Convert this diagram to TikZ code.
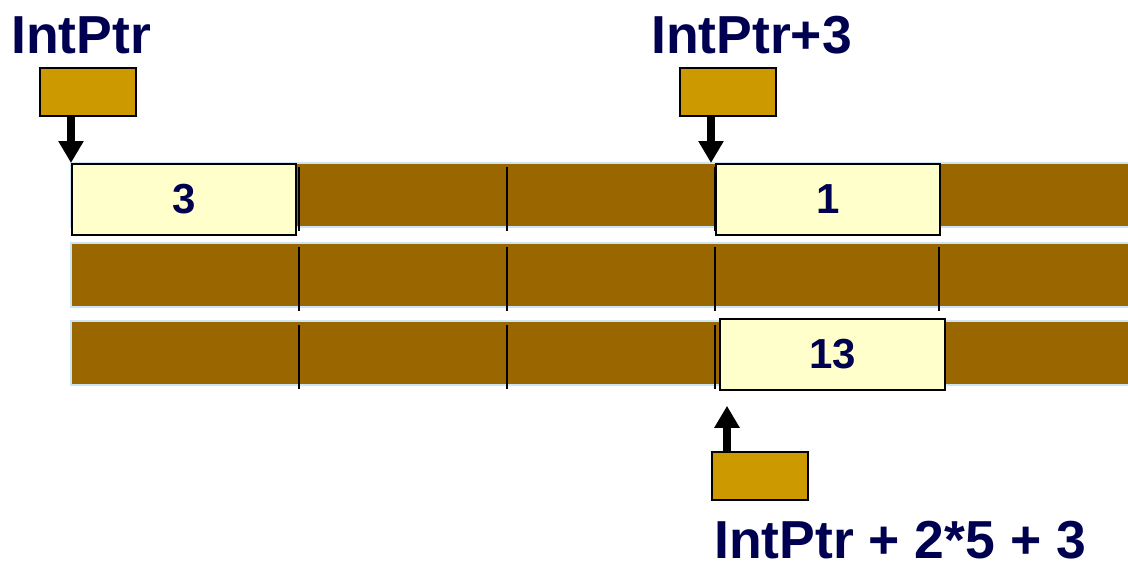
\documentclass[tikz,border=0pt]{standalone}
\usepackage{fontspec}
\setmainfont{Liberation Sans}
\usetikzlibrary{arrows.meta}
\definecolor{bar}{RGB}{153,102,0}
\definecolor{barline}{RGB}{204,230,245}
\definecolor{cell}{RGB}{255,255,204}
\definecolor{ptr}{RGB}{204,153,0}
\definecolor{ink}{RGB}{0,0,80}
\tikzset{
  rowbar/.style={fill=bar, draw=barline, line width=1.5pt},
  tick/.style={draw=black, line width=1.6pt},
  cellbox/.style={draw=black, fill=cell, line width=1.8pt, minimum width=224pt, minimum height=71pt, inner sep=0pt, font=\fontsize{42}{42}\selectfont\bfseries, text=ink},
  ptrbox/.style={draw=black, fill=ptr, line width=1.8pt, minimum width=96pt, minimum height=48pt, inner sep=0pt},
  lbl/.style={font=\fontsize{53.5}{53.5}\selectfont\bfseries, text=ink, inner sep=0pt, anchor=base west},
  ptrarrow/.style={line width=8pt, -{Triangle[width=24pt,length=22pt]}}
}
\begin{document}
\begin{tikzpicture}[x=1pt,y=-1pt]
\useasboundingbox (0,0) rectangle (1128,565);
% memory rows
\draw[rowbar] (71,163) rectangle (1130,227);
\draw[rowbar] (71,243) rectangle (1130,307);
\draw[rowbar] (71,321) rectangle (1130,385);
% element separators
\foreach \x in {299,507,715,939} {
  \draw[tick] (\x,167) -- (\x,231);
  \draw[tick] (\x,247) -- (\x,311);
  \draw[tick] (\x,325) -- (\x,389);
}
% highlighted cells
\node[cellbox, anchor=north west] (c3) at (71,163) {3};
\node[cellbox, anchor=north west] (c1) at (715,163) {1};
\node[cellbox, anchor=north west, minimum width=225pt] (c13) at (719,318) {13};
% pointer boxes
\node[ptrbox, anchor=north west] (pa) at (39,67) {};
\node[ptrbox, anchor=north west] (pb) at (679,67) {};
\node[ptrbox, anchor=north west] (pc) at (711,451) {};
% arrows
\coordinate (ta) at (c3.north west);
\coordinate (tb) at ([xshift=-4pt]c1.north west);
\coordinate (tc) at ([xshift=8pt,yshift=-15pt]c13.south west);
\draw[ptrarrow] (pa.south -| ta) -- (ta);
\draw[ptrarrow] (pb.south -| tb) -- (tb);
\draw[ptrarrow] (pc.north -| tc) -- (tc);
% labels
\node[lbl] (la) at (11,53) {IntPtr};
\node[lbl] (lb) at (651,53) {IntPtr+3};
\node[lbl] (lc) at (714,558) {IntPtr + 2*5 + 3};
\end{tikzpicture}
\end{document}
